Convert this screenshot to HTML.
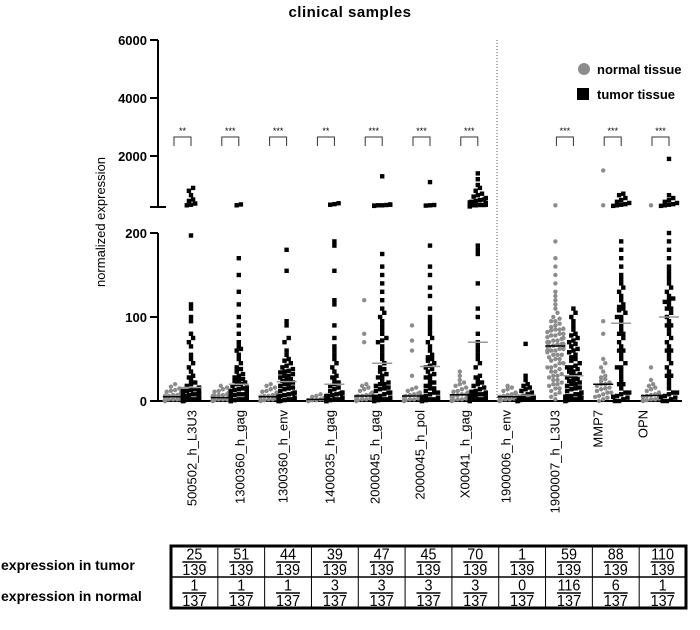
<!DOCTYPE html>
<html><head><meta charset="utf-8"><style>
body{margin:0;background:#fff;}
svg{display:block;font-family:"Liberation Sans",Arial,sans-serif;}
</style></head><body>
<svg id="chart" width="700" height="630" viewBox="0 0 700 630" xmlns="http://www.w3.org/2000/svg">
<text x="350" y="17" text-anchor="middle" font-size="15" font-weight="bold" letter-spacing="0.5">clinical samples</text>
<text transform="translate(105,222) rotate(-90)" text-anchor="middle" font-size="13">normalized expression</text>
<g>
<circle cx="584" cy="69" r="6" fill="#8c8c8c"/>
<text x="597" y="74" font-size="13" font-weight="bold">normal tissue</text>
<rect x="577" y="88" width="12" height="12" fill="#000"/>
<text x="597" y="99" font-size="13" font-weight="bold">tumor tissue</text>
</g>
<g id="axes"></g>
<g id="marks"></g>
<g id="table"></g>
</svg>
<script>
const categories=["500502_h_L3U3","1300360_h_gag","1300360_h_env","1400035_h_gag","2000045_h_gag","2000045_h_pol","X00041_h_gag","1900006_h_env","1900007_h_L3U3","MMP7","OPN"];
const significance=["**","***","***","**","***","***","***","","***","***","***"];
const lowerTicks=[0,100,200];
const upperTicks=[2000,4000,6000];
const tumorNum=[25,51,44,39,47,45,70,1,59,88,110];
const tumorDen=[139,139,139,139,139,139,139,139,139,139,139];
const normalNum=[1,1,1,3,3,3,3,0,116,6,1];
const normalDen=[137,137,137,137,137,137,137,137,137,137,137];
const normalVals=[
[0,1,1,2,2,3,3,4,4,5,5,6,6,7,7,8,9,10,11,12,13,15,17,20,3,2,1,0,5,8,0,1,2,4,6,10],
[0,1,1,2,2,3,3,4,5,5,6,7,7,8,9,10,11,12,14,16,18,2,3,1,0,6,0,1,2,4,8],
[0,1,1,2,3,3,4,5,5,6,7,8,9,10,11,12,14,16,18,20,2,1,4,6,0,1,3,5],
[0,0,1,1,2,2,3,3,4,5,6,8,1,2,0,1],
[0,1,2,3,4,5,6,7,8,9,10,12,14,16,18,20,2,3,5,70,80,120,0,1,4,6],
[0,1,2,3,4,5,6,7,8,9,10,12,14,16,30,60,72,90,4,2,0,1,3],
[0,1,2,3,4,5,6,7,8,9,10,11,12,14,16,18,20,22,25,30,35,3,5,8,10,6,0,1,2,4],
[0,1,2,3,4,5,6,7,8,9,10,12,14,16,18,3,5,2,0,1,4],
[2,5,8,10,12,15,18,20,22,25,28,30,32,35,38,40,42,45,48,50,52,55,55,58,60,60,62,63,65,66,67,68,70,70,72,74,75,76,78,80,80,82,84,85,86,88,90,92,95,98,100,105,110,115,120,125,130,140,150,160,170,190,300,40,45,50,55,60,65,70,75,35,30,25,20,15,62,68,72,78,85,95],
[0,2,4,6,8,10,12,14,16,18,20,22,24,26,28,30,35,40,45,50,5,10,15,20,80,95,300,1500],
[0,1,2,3,4,5,6,7,8,9,10,12,14,16,18,20,25,40,300,3,5,0,1,2]
];
const tumorVals=[
[0,0,1,1,2,2,3,3,4,5,5,6,7,8,9,10,11,12,13,14,15,16,18,20,22,25,28,30,35,40,45,50,55,65,70,75,80,95,100,110,115,197,300,320,360,450,500,650,800,900,0,2,4,6,8,10,12],
[0,0,1,2,3,4,5,6,7,8,9,10,11,12,13,14,15,16,18,20,22,24,26,28,30,32,35,38,40,45,50,55,60,62,65,70,80,90,100,115,130,150,170,330,300,0,2,4,6,8,10,15,20,25],
[0,0,1,2,3,4,5,6,7,8,9,10,12,14,16,18,20,22,24,26,28,30,32,34,36,38,40,42,45,48,50,55,60,70,75,90,95,155,180,0,2,5,10,15,20,25,30,35],
[0,0,1,2,3,4,5,6,7,8,9,10,12,14,16,18,20,22,25,28,30,35,40,45,50,55,60,65,75,90,115,120,155,185,190,320,340,370,0,2,4,6,10],
[0,1,2,3,4,5,6,8,10,12,14,16,18,20,22,25,28,30,32,35,38,40,45,50,55,60,65,70,72,75,80,85,90,95,100,105,110,120,130,140,150,160,175,280,300,310,320,300,290,330,1300,0,2,5,10,15,20],
[0,1,2,3,4,6,8,10,12,15,18,20,22,25,28,30,32,35,38,40,42,45,48,50,52,55,60,65,70,75,80,85,90,95,100,110,125,135,150,160,185,300,310,290,1100,0,2,5,10,15],
[0,1,1,2,2,3,3,4,5,6,7,8,9,10,11,12,14,16,18,20,22,25,28,30,40,45,50,55,60,65,70,80,100,110,140,175,180,185,260,270,280,290,300,310,320,330,350,380,400,420,450,480,500,550,600,650,700,800,900,1000,1200,1400,300,280,310,340,0,2,4,6,8],
[0,1,2,3,4,5,6,8,10,12,14,16,18,20,25,30,68,0,2,4],
[0,1,2,3,4,5,6,8,10,12,14,16,18,20,22,24,26,28,30,32,35,38,40,42,45,48,50,52,55,58,60,62,65,68,70,72,75,78,80,85,90,95,100,105,110,5,10,15,20,25,30,35,40,0,2,4,6,8],
[0,2,4,6,8,10,15,20,25,30,35,40,45,50,55,60,65,70,75,80,85,90,95,100,105,108,110,112,115,120,125,130,135,140,145,150,160,170,180,190,280,300,320,340,380,420,480,550,650,700,20,40,60,80,100,0,5,10],
[0,2,4,6,8,10,15,20,25,30,35,40,45,50,55,60,65,70,75,80,85,90,95,100,105,110,115,118,120,122,125,130,135,140,145,150,155,160,170,180,190,200,280,300,320,340,380,420,480,550,650,1900,30,60,90,110,0,5,10]
];
const NS="http://www.w3.org/2000/svg";
function mk(tag,attrs,parent){const e=document.createElementNS(NS,tag);for(const k in attrs)e.setAttribute(k,attrs[k]);parent.appendChild(e);return e;}
const AX=158, Y0=401, Y200=233, UB=207;
function yScale(v){ if(v<=200) return Y0-(v/200)*(Y0-Y200); return 156-(v-2000)*(58/2000); }
function xNormal(i){return 173+i*47.8;}
function xTumor(i){return xNormal(i)+18;}
const labelX=[192,240,283,330,375,420,465,506,555,598,643];
const axes=document.getElementById('axes');
let l=mk('line',{x1:AX,y1:40,x2:AX,y2:UB,stroke:'#000','stroke-width':2},axes);

l=mk('line',{x1:AX-8,y1:UB,x2:AX+8,y2:UB,stroke:'#000','stroke-width':2},axes);

l=mk('line',{x1:AX,y1:Y200,x2:AX,y2:Y0,stroke:'#000','stroke-width':2},axes);

l=mk('line',{x1:AX,y1:Y0,x2:682,y2:Y0,stroke:'#000','stroke-width':2},axes);

l=mk('line',{x1:497,y1:40,x2:497,y2:Y0,stroke:'#555','stroke-width':1,'stroke-dasharray':'1,2'},axes);

lowerTicks.concat(upperTicks).forEach(v=>{
 const y=yScale(v);
 const t=mk('line',{x1:AX-8,y1:y,x2:AX,y2:y,stroke:'#000','stroke-width':2},axes);
 
 const tx=mk('text',{x:AX-11,y:y+5,'text-anchor':'end','font-size':13,'font-weight':'bold'},axes);
 tx.textContent=v;
 
});
categories.forEach((c,i)=>{
 const t=mk('text',{transform:`translate(${labelX[i]+4.5},410) rotate(-90)`,'text-anchor':'end','font-size':13},axes);
 t.textContent=c;
 
 if(significance[i]){
  const a=xNormal(i)+1,b=xTumor(i);
  const p=mk('path',{d:`M${a} 146 V137 H${b} V146`,fill:'none',stroke:'#333','stroke-width':1},axes);
  
  const s=mk('text',{x:(a+b)/2,y:134,'text-anchor':'middle','font-size':9},axes);
  s.textContent=significance[i];
  
 }
});
const marks=document.getElementById('marks');
function swarm(vals,cx,isTumor){
 const sorted=vals.slice().sort((a,b)=>a-b);
 const bins={};
 sorted.forEach(v=>{const y=yScale(v);const k=Math.round(y/5);(bins[k]=bins[k]||[]).push(y);});
 Object.keys(bins).forEach(k=>{
  const arr=bins[k];const n=arr.length;
  arr.forEach((y,j)=>{
   const off=(j-(n-1)/2)*4.2;
   const x=cx+Math.max(-8,Math.min(8,off));
   let e;
   if(isTumor){e=mk('rect',{x:x-2.2,y:y-2.2,width:4.4,height:4.4,fill:'#000'},marks);
    }
   else{e=mk('circle',{cx:x,cy:y,r:2.2,fill:'#8c8c8c'},marks);
    }
   
  });
 });
 const m=sorted.length%2?sorted[(sorted.length-1)/2]:(sorted[sorted.length/2-1]+sorted[sorted.length/2])/2;
 const my=yScale(m);
 const ln=mk('line',{x1:cx-10,y1:my,x2:cx+10,y2:my,stroke:isTumor?'#999':'#000','stroke-width':1.5},marks);
 
 
}
categories.forEach((c,i)=>{swarm(normalVals[i],xNormal(i),false);swarm(tumorVals[i],xTumor(i),true);});
const tb=document.getElementById('table');
const TX=171,TW=515,TY=546,RH=31,CW=TW/11;
let r=mk('rect',{x:TX,y:TY,width:TW,height:RH*2,fill:'none',stroke:'#000','stroke-width':3},tb);

l=mk('line',{x1:TX,y1:TY+RH,x2:TX+TW,y2:TY+RH,stroke:'#000','stroke-width':1.5},tb);

for(let i=1;i<11;i++){const d=mk('line',{x1:TX+i*CW,y1:TY,x2:TX+i*CW,y2:TY+RH*2,stroke:'#000','stroke-width':1},tb);
 }
[["expression in tumor",570],["expression in normal",601]].forEach(([t,y])=>{
 const e=mk('text',{x:1,y:y,'font-size':14,'font-weight':'bold'},tb);e.textContent=t;
 
});
function frac(num,den,cx,top){
 const n=mk('text',{x:cx/0.9,y:top+13.5,'text-anchor':'middle','font-size':16,transform:'scale(0.9,1)'},tb);
 n.textContent=num;
 
 const ln=mk('line',{x1:cx-12,y1:top+16,x2:cx+12,y2:top+16,stroke:'#000','stroke-width':1.5},tb);
 
 const d=mk('text',{x:cx/0.9,y:top+29,'text-anchor':'middle','font-size':16,transform:'scale(0.9,1)'},tb);
 d.textContent=den;
 
}
for(let i=0;i<11;i++){const cx=TX+(i+0.5)*CW;frac(tumorNum[i],tumorDen[i],cx,TY);frac(normalNum[i],normalDen[i],cx,TY+RH);}
</script>
</body></html>
